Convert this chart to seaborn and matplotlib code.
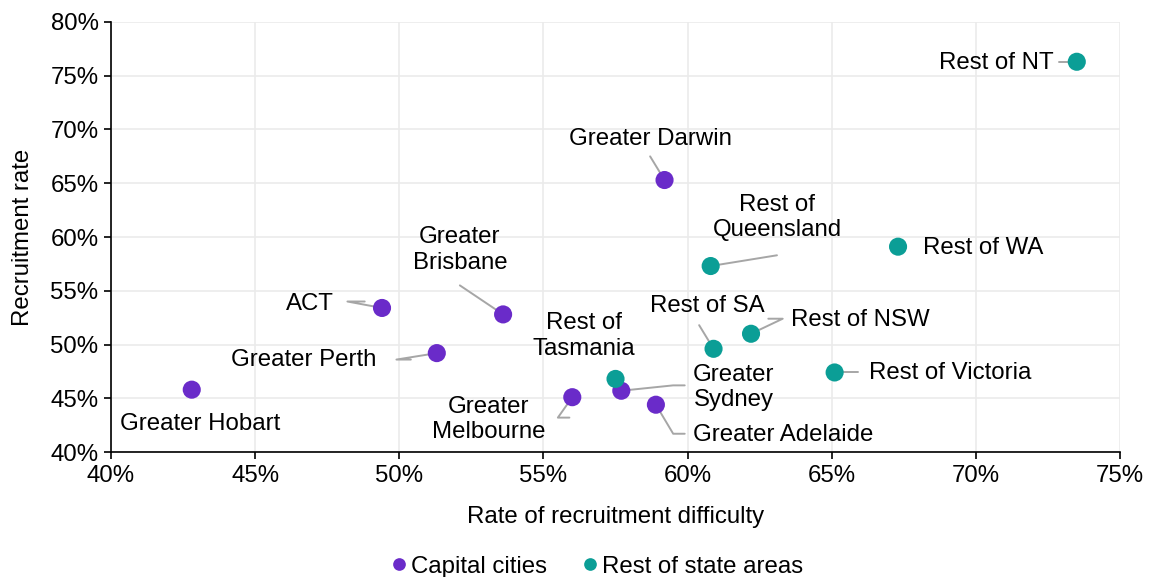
import pandas as pd
import seaborn as sns
import matplotlib.pyplot as plt
from matplotlib.ticker import PercentFormatter

regions = ['Greater Hobart', 'ACT', 'Greater Perth', 'Greater Brisbane', 'Greater Melbourne',
           'Greater Sydney', 'Greater Adelaide', 'Greater Darwin',
           'Rest of Tasmania', 'Rest of Queensland', 'Rest of SA', 'Rest of NSW',
           'Rest of Victoria', 'Rest of WA', 'Rest of NT']
difficulty = [42.8, 49.4, 51.3, 53.6, 56.0, 57.7, 58.9, 59.2,
              57.5, 60.8, 60.9, 62.2, 65.1, 67.3, 73.5]
recruitment = [45.8, 53.4, 49.2, 52.8, 45.1, 45.7, 44.4, 65.3,
               46.8, 57.3, 49.6, 51.0, 47.4, 59.1, 76.3]
group = ['Capital cities'] * 8 + ['Rest of state areas'] * 7

# label text, text centre (data coords), leader line path (data coords) or None
labels = {
    'Greater Hobart': ('Greater Hobart', (43.1, 42.6), None),
    'ACT': ('ACT', (46.9, 53.8), [(48.2, 54.0), (48.8, 54.0)]),
    'Greater Perth': ('Greater Perth', (46.7, 48.6), [(49.9, 48.6), (50.4, 48.6)]),
    'Greater Brisbane': ('Greater\nBrisbane', (52.1, 58.8), [(52.1, 55.5)]),
    'Greater Melbourne': ('Greater\nMelbourne', (53.1, 43.0), [(55.5, 43.2), (55.9, 43.2)]),
    'Greater Sydney': ('Greater\nSydney', (61.6, 46.0), [(59.5, 46.2), (59.9, 46.2)]),
    'Greater Adelaide': ('Greater Adelaide', (63.3, 41.6), [(59.5, 41.7), (59.9, 41.7)]),
    'Greater Darwin': ('Greater Darwin', (58.7, 69.1), [(58.7, 67.5)]),
    'Rest of Tasmania': ('Rest of\nTasmania', (56.4, 50.8), None),
    'Rest of Queensland': ('Rest of\nQueensland', (63.1, 61.8), [(63.1, 58.3)]),
    'Rest of SA': ('Rest of SA', (60.7, 53.6), [(60.4, 51.8)]),
    'Rest of NSW': ('Rest of NSW', (66.0, 52.3), [(63.3, 52.4), (62.8, 52.4)]),
    'Rest of Victoria': ('Rest of Victoria', (69.1, 47.35), [(65.9, 47.4)]),
    'Rest of WA': ('Rest of WA', (70.25, 59.0), None),
    'Rest of NT': ('Rest of NT', (70.7, 76.2), [(72.9, 76.3)]),
}

df = pd.DataFrame({'region': regions, 'difficulty': difficulty,
                   'recruitment': recruitment, 'group': group})

sns.set_style('whitegrid')
plt.rcParams['font.family'] = ['Liberation Sans', 'DejaVu Sans']
fs = 17.3

fig, ax = plt.subplots(figsize=(11.53, 5.77), dpi=100)
fig.subplots_adjust(left=0.0963, right=0.9714, top=0.9619, bottom=0.2166)

palette = {'Capital cities': '#6A2BC9', 'Rest of state areas': '#0B9E96'}
sns.scatterplot(data=df, x='difficulty', y='recruitment', hue='group', palette=palette,
                s=170, edgecolor='none', ax=ax, zorder=3, legend=True)

for _, row in df.iterrows():
    text, pos, path = labels[row['region']]
    ax.text(pos[0], pos[1], text, ha='center', va='center', fontsize=fs,
            color='black', linespacing=1.2, zorder=4)
    if path:
        xs = [row['difficulty']] + [p[0] for p in path]
        ys = [row['recruitment']] + [p[1] for p in path]
        ax.plot(xs[::-1], ys[::-1], color='#a6a6a6', lw=1.4, zorder=2)

ax.set_xlim(40, 75)
ax.set_ylim(40, 80)
ax.set_xticks(range(40, 76, 5))
ax.set_yticks(range(40, 81, 5))
ax.xaxis.set_major_formatter(PercentFormatter(decimals=0))
ax.yaxis.set_major_formatter(PercentFormatter(decimals=0))
ax.grid(color='#ebebeb', lw=1.2)
for s in ['top', 'right']:
    ax.spines[s].set_visible(False)
for s in ['left', 'bottom']:
    ax.spines[s].set_color('black')
    ax.spines[s].set_linewidth(1.2)
ax.tick_params(axis='both', which='major', length=5, width=1.2, color='black',
               labelsize=fs, labelcolor='black', direction='out',
               left=True, bottom=True, pad=4)
ax.set_xlabel('Rate of recruitment difficulty', fontsize=fs, color='black', labelpad=14)
ax.set_ylabel('Recruitment rate', fontsize=fs, color='black', labelpad=12)

handles, lbls = ax.get_legend_handles_labels()
ax.get_legend().remove()
fig.legend(handles, lbls, loc='center', bbox_to_anchor=(0.518, 0.018),
           ncol=2, frameon=False, fontsize=fs, labelcolor='black',
           handlelength=0.6, handletextpad=0.2,
           columnspacing=1.5, markerscale=0.7, borderpad=0)

fig.savefig('out.png', dpi=100)
